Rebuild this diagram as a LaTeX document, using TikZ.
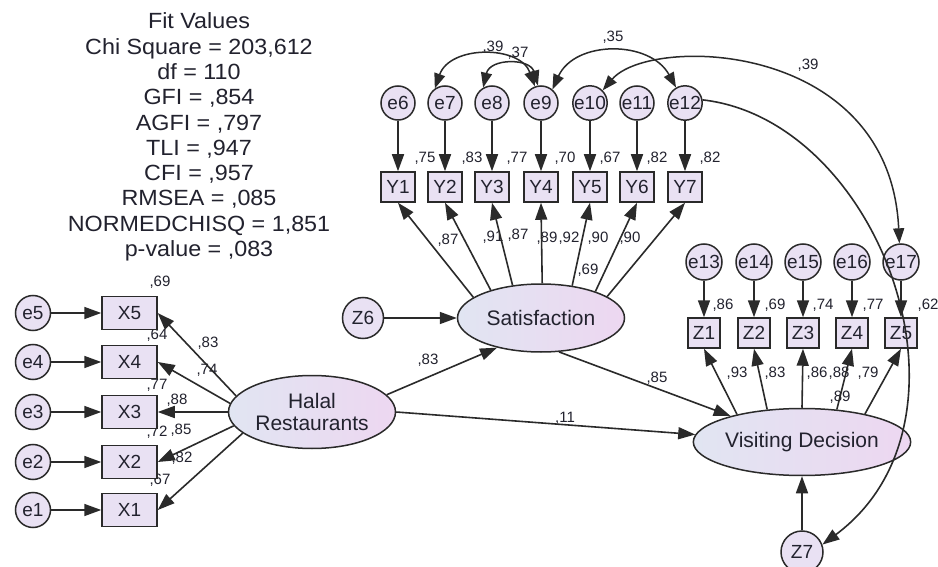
\documentclass[tikz,border=0pt]{standalone}
\usepackage{fontspec}
\setmainfont{Liberation Sans}
\newfontfamily\fitfont[FakeStretch=1.06]{Liberation Sans}
\usetikzlibrary{arrows.meta,shapes.geometric}
\definecolor{ln}{HTML}{2A2A2A}
\definecolor{tx}{HTML}{22222E}
\definecolor{fillA}{HTML}{E9E1F3}
\definecolor{ellL}{HTML}{E1E5F2}
\definecolor{ellR}{HTML}{EDD7F1}
\begin{document}
\begin{tikzpicture}[x=1pt,y=-1pt,
  err/.style={circle, draw=ln, line width=1.5pt, fill=fillA, minimum size=35pt, inner sep=0pt, font=\fontsize{19}{19}\selectfont, text=tx},
  obs/.style={rectangle, draw=ln, line width=1.5pt, fill=fillA, minimum width=34pt, minimum height=30pt, inner sep=0pt, font=\fontsize{19}{19}\selectfont, text=tx},
  xbox/.style={obs, minimum width=55pt, minimum height=33pt},
  lat/.style={ellipse, draw=ln, line width=1.5pt, left color=ellL, right color=ellR, minimum width=167pt, minimum height=68pt, inner sep=0pt, font=\fontsize{21}{22}\selectfont, align=center, text=tx},
  coef/.style={font=\fontsize{15}{15}\selectfont, text=tx, inner sep=0pt},
  arr/.style={draw=ln, line width=1.6pt, -{Triangle[length=17pt,width=12pt]}},
  cov/.style={draw=ln, line width=1.5pt, {Triangle[length=15pt,width=11pt]}-{Triangle[length=15pt,width=11pt]}}
]
\useasboundingbox (0,0) rectangle (938,567);
\fill[white] (0,0) rectangle (938,567);

% fit values
\node[align=center, text=tx, font=\fitfont\fontsize{22}{25.3}\selectfont, inner sep=0pt] (fit) at (199,137)
 {Fit Values\\Chi Square = 203,612\\df = 110\\GFI = ,854\\AGFI = ,797\\TLI = ,947\\CFI = ,957\\RMSEA = ,085\\NORMEDCHISQ = 1,851\\p-value = ,083};

% coefficients drawn beneath the connectors
\node[coef] (cx1) at (160,282) {,69};
\node[coef] (cx2) at (157,335) {,64};
\node[coef] (cx3) at (157,385) {,77};
\node[coef] (cx4) at (157,432) {,72};
\node[coef] (cx5) at (160,480) {,67};
\node[coef] (cx6) at (208,343) {,83};
\node[coef] (cx7) at (207,370) {,74};
\node[coef] (cx8) at (177,400) {,88};
\node[coef] (cx9) at (181,430) {,85};
\node[coef] (cx10) at (182,458) {,82};
\node[coef] (cy1) at (425,158) {,75};
\node[coef] (cy2) at (472,158) {,83};
\node[coef] (cy3) at (517,158) {,77};
\node[coef] (cy4) at (565,158) {,70};
\node[coef] (cy5) at (610,158) {,67};
\node[coef] (cy6) at (657,158) {,82};
\node[coef] (cy7) at (710,158) {,82};
\node[coef] (cy8) at (448,240) {,87};
\node[coef] (cy9) at (493,237) {,91};
\node[coef] (cy10) at (518,235) {,87};
\node[coef] (cy11) at (547,238) {,89};
\node[coef] (cy12) at (569,238) {,92};
\node[coef] (cy13) at (598,238) {,90};
\node[coef] (cy14) at (630,238) {,90};
\node[coef] (cy15) at (588,270) {,69};
\node[coef] (cz1) at (723,305) {,86};
\node[coef] (cz2) at (775,305) {,69};
\node[coef] (cz3) at (823,305) {,74};
\node[coef] (cz4) at (873,305) {,77};
\node[coef] (cz5) at (928,305) {,62};
\node[coef] (cz6) at (737,373) {,93};
\node[coef] (cz7) at (775,373) {,83};
\node[coef] (cz8) at (817,373) {,86};
\node[coef] (cz9) at (839,373) {,88};
\node[coef] (cz10) at (868,373) {,79};
\node[coef] (cz11) at (840,397) {,89};
\node[coef] (cs1) at (428,360) {,83};
\node[coef] (cs2) at (657,378) {,85};
\node[coef] (cs3) at (565,418) {,11};
\node[coef] (cc1) at (493,47) {,39};
\node[coef] (cc2) at (518,53) {,37};
\node[coef] (cc3) at (613,37) {,35};
\node[coef] (cc4) at (808,65) {,39};

% latent variables
\node[lat, minimum height=73pt] (hal) at (312,412) {Halal\\Restaurants};
\node[lat] (sat) at (541,318) {Satisfaction};
\node[lat, minimum height=67pt] (vd) at (802,442) {Visiting Decision};

% X side
\foreach \n/\y in {5/313,4/362,3/412,2/462,1/510}{
  \node[err] (e\n) at (33,\y) {e\n};
  \node[xbox] (X\n) at (129.5,\y) {X\n};
  \draw[arr] (e\n) -- (X\n);
}
\foreach \n/\a in {5/168,4/174,3/180,2/190,1/197}{
  \draw[arr] (hal.\a) -- (X\n.east);
}

% Y side
\foreach \n/\x/\e in {1/398/6,2/445/7,3/492/8,4/541/9,5/590/10,6/637/11,7/685/12}{
  \node[err, minimum size=34pt] (e\e) at (\x,103) {e\e};
  \node[obs] (Y\n) at (\x,187) {Y\n};
  \draw[arr] (e\e) -- (Y\n);
}
\foreach \n/\a in {1/163,2/151,3/131,4/88,5/46,6/26,7/18}{
  \draw[arr] (sat.\a) -- (Y\n.south);
}

% Z side
\foreach \n/\x/\e in {1/704/13,2/754/14,3/803/15,4/852/16,5/901/17}{
  \node[err, minimum size=36pt] (e\e) at (\x,262) {e\e};
  \node[obs, minimum width=32pt] (Z\n) at (\x,333) {Z\n};
  \draw[arr] (e\e) -- (Z\n);
}
\foreach \n/\a in {1/157,2/137,3/90,4/43,5/24}{
  \draw[arr] (vd.\a) -- (Z\n.south);
}

% disturbances
\node[err, minimum size=41pt] (Z6) at (363,318) {Z6};
\node[err, minimum size=42pt] (Z7) at (802,552) {Z7};
\draw[arr] (Z6) -- (sat);
\draw[arr] (Z7) -- (vd);

% structural paths
\draw[arr] (hal.13) -- (sat.214);
\draw[arr] (sat.298) -- (vd.160);
\draw[arr] (hal.0) -- (vd.176);

% covariances
\draw[cov] (e9.110) .. controls (520,45) and (450,45) .. (e7.125);
\draw[cov] (e9.100) .. controls (530,58) and (490,58) .. (e8.120);
\draw[cov] (e9.50) .. controls (575,40) and (650,40) .. (e12.120);
\draw[cov] (e10.45) .. controls (650,35) and (890,40) .. (e17.95);
\draw[arr] (e12.10) .. controls (880,120) and (990,420) .. (Z7.20);
\end{tikzpicture}
\end{document}
